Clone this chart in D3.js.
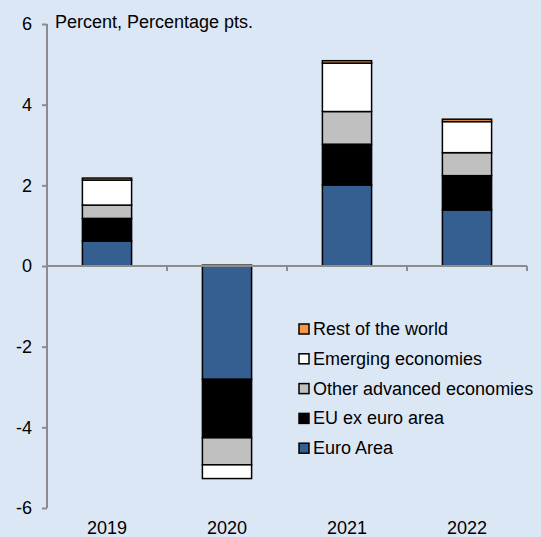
<!DOCTYPE html>
<html>
<head>
<meta charset="utf-8">
<script src="https://cdn.jsdelivr.net/npm/d3@7"></script>
<style>
  html, body { margin: 0; padding: 0; background: #dce7f6; }
  svg { display: block; font-family: "Liberation Sans", Arial, sans-serif; }
</style>
</head>
<body>
<div id="chart"></div>
<script>
// data
var years = ["2019", "2020", "2021", "2022"]
var keys = ["Euro Area", "EU ex euro area", "Other advanced economies", "Emerging economies", "Rest of the world"]
var euroArea = [0.62, -2.81, 2.01, 1.39]
var euExEuro = [0.56, -1.45, 1.01, 0.85]
var otherAdvanced = [0.33, -0.67, 0.81, 0.57]
var emerging = [0.62, -0.34, 1.20, 0.77]
var restOfWorld = [0.05, 0.02, 0.06, 0.06]
var yTicks = [-6, -4, -2, 0, 2, 4, 6]
var colors = ["#355f90", "#000000", "#c0c0c0", "#ffffff", "#f79646"]

var width = 541, height = 537
var margin = { top: 24, right: 14, bottom: 29, left: 47 }

var rows = years.map(function (y, i) {
    return {
        year: y,
        "Euro Area": euroArea[i],
        "EU ex euro area": euExEuro[i],
        "Other advanced economies": otherAdvanced[i],
        "Emerging economies": emerging[i],
        "Rest of the world": restOfWorld[i]
    }
})

var svg = d3.select("#chart").append("svg")
    .attr("width", width)
    .attr("height", height)

svg.append("rect")
    .attr("width", width).attr("height", height)
    .attr("fill", "#dce7f6")

var x = d3.scaleBand()
    .domain(years)
    .range([margin.left, width - margin.right])
    .paddingInner(0.59)
    .paddingOuter(0.295)

var y = d3.scaleLinear()
    .domain([-6, 6])
    .range([height - margin.bottom, margin.top])

var series = d3.stack()
    .keys(keys)
    .offset(d3.stackOffsetDiverging)(rows)

// bars
svg.append("g").selectAll("g")
    .data(series)
    .enter().append("g")
    .attr("fill", function (d, i) { return colors[i] })
    .selectAll("rect")
    .data(function (d) { return d })
    .enter().append("rect")
    .attr("x", function (d) { return x(d.data.year) })
    .attr("width", x.bandwidth())
    .attr("y", function (d) { return y(Math.max(d[0], d[1])) })
    .attr("height", function (d) { return Math.abs(y(d[0]) - y(d[1])) })
    .attr("stroke", "#000")
    .attr("stroke-width", 1.5)

// y axis
var yAxis = svg.append("g")
    .attr("transform", "translate(" + margin.left + ",0)")
    .call(d3.axisLeft(y).tickValues(yTicks).tickSize(5).tickPadding(10).tickFormat(d3.format("d")))
yAxis.select(".domain").attr("stroke", "#8c8c8c").attr("stroke-width", 2)
    .attr("d", "M0," + y(6) + "V" + y(-6))
yAxis.selectAll(".tick line").attr("stroke", "#8c8c8c").attr("stroke-width", 2)
yAxis.selectAll(".tick text")
    .attr("font-size", 18).attr("fill", "#000")
    .attr("font-family", "Liberation Sans, Arial, sans-serif")
    .text(function (d) { return d < 0 ? "-" + Math.abs(d) : d })

// x axis line at zero with ticks between categories
var xEdges = years.map(function (yr) { return x(yr) + x.bandwidth() + x.step() * x.paddingInner() / 2 })
svg.append("line")
    .attr("x1", margin.left).attr("x2", width - margin.right)
    .attr("y1", y(0)).attr("y2", y(0))
    .attr("stroke", "#8c8c8c").attr("stroke-width", 2)
svg.selectAll(".xtick")
    .data(xEdges)
    .enter().append("line")
    .attr("class", "xtick")
    .attr("x1", function (d) { return d }).attr("x2", function (d) { return d })
    .attr("y1", y(0)).attr("y2", y(0) + 5)
    .attr("stroke", "#8c8c8c").attr("stroke-width", 2)

// year labels at the bottom
svg.selectAll(".year")
    .data(years)
    .enter().append("text")
    .attr("x", function (d) { return x(d) + x.bandwidth() / 2 })
    .attr("y", height - 3)
    .attr("text-anchor", "middle")
    .attr("font-size", 18)
    .text(function (d) { return d })

// unit label
svg.append("text")
    .attr("x", 55).attr("y", 28)
    .attr("font-size", 18)
    .text("Percent, Percentage pts.")

// legend (top to bottom reversed order)
var legendKeys = keys.slice().reverse()
var legend = svg.append("g").attr("transform", "translate(299,324)")
var item = legend.selectAll("g")
    .data(legendKeys)
    .enter().append("g")
    .attr("transform", function (d, i) { return "translate(0," + i * 29.8 + ")" })
item.append("rect")
    .attr("width", 10).attr("height", 10)
    .attr("fill", function (d) { return colors[keys.indexOf(d)] })
    .attr("stroke", "#000").attr("stroke-width", 1.5)
item.append("text")
    .attr("x", 14).attr("y", 11)
    .attr("font-size", 18)
    .text(function (d) { return d })
</script>
</body>
</html>
